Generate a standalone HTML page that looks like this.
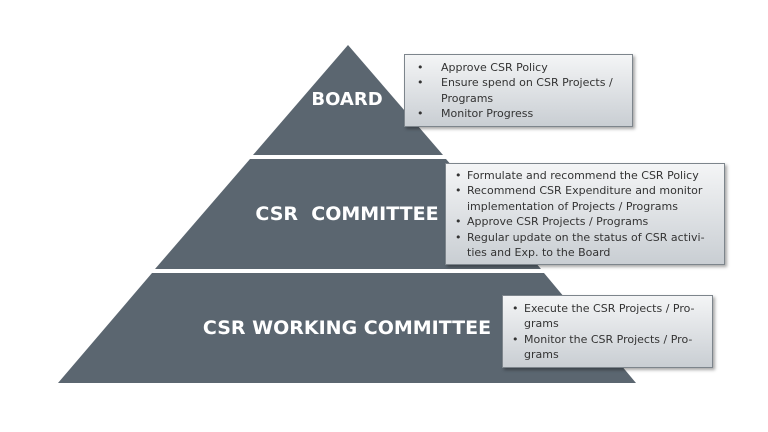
<!DOCTYPE html>
<html><head><meta charset="utf-8"><style>
body{margin:0;width:768px;height:432px;background:#fff;position:relative;overflow:hidden;font-family:"DejaVu Sans","Liberation Sans",sans-serif}
.box{position:absolute;background:linear-gradient(#f4f5f6,#c9ced3);border:1px solid #7d858c;box-shadow:2px 2px 3px rgba(0,0,0,.35);font-size:11px;color:#333;line-height:15.4px;box-sizing:border-box;white-space:nowrap}
.box ul{margin:0;padding:0;list-style:none}
.box li{position:relative;padding-left:12px}
.box li:before{content:"•";position:absolute;left:0}
.t{position:absolute;color:#fff;font-weight:bold;text-align:center;width:500px;left:97px;white-space:pre}
</style></head><body>
<svg width="768" height="432" style="position:absolute;left:0;top:0">
<polygon points="348,45 443,155 253,155" fill="#5b6670"/>
<polygon points="250,159 446,159 541,269 155,269" fill="#5b6670"/>
<polygon points="152,273 544,273 636,383 58,383" fill="#5b6670"/>
</svg>
<div class="t" style="top:89px;font-size:18px">BOARD</div>
<div class="t" style="top:203px;font-size:19px">CSR  COMMITTEE</div>
<div class="t" style="top:317px;font-size:19px">CSR WORKING COMMITTEE</div>
<div class="box" style="left:404px;top:54px;width:229px;height:73px;padding:5px 4px 0 12px">
<ul><li style="padding-left:24px">Approve CSR Policy</li><li style="padding-left:24px">Ensure spend on CSR Projects /<br>Programs</li><li style="padding-left:24px">Monitor Progress</li></ul></div>
<div class="box" style="left:445px;top:163px;width:280px;height:102px;padding:4px 4px 0 9px">
<ul><li>Formulate and recommend the CSR Policy</li><li>Recommend CSR Expenditure and monitor<br>implementation of Projects / Programs</li><li>Approve CSR Projects / Programs</li><li>Regular update on the status of CSR activi-<br>ties and Exp. to the Board</li></ul></div>
<div class="box" style="left:502px;top:295px;width:211px;height:73px;padding:5px 4px 0 9px">
<ul><li>Execute the CSR Projects / Pro-<br>grams</li><li>Monitor the CSR Projects / Pro-<br>grams</li></ul></div>
</body></html>
